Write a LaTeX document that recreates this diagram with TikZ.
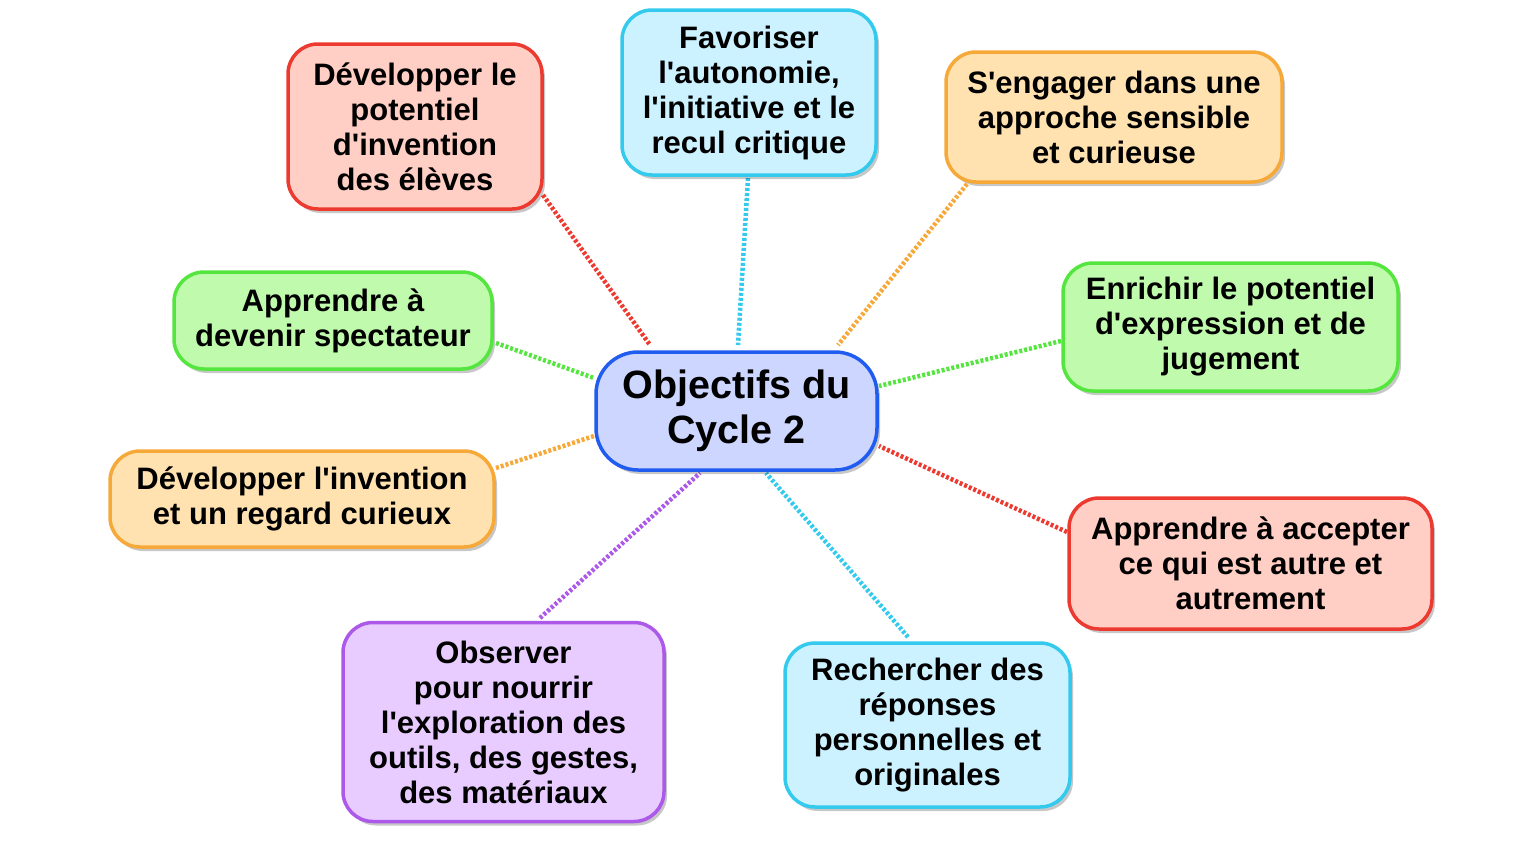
\documentclass[tikz,border=0pt]{standalone}
\usepackage{fontspec}
\setmainfont{Liberation Sans}[Ligatures=TeXOff]
\usetikzlibrary{shadows}
\pgfdeclarelayer{background}
\pgfsetlayers{background,main}
\definecolor{redB}{RGB}{236,58,48}
\definecolor{redF}{RGB}{255,206,196}
\definecolor{cyanB}{RGB}{52,202,238}
\definecolor{cyanF}{RGB}{204,242,255}
\definecolor{oraB}{RGB}{246,168,56}
\definecolor{oraF}{RGB}{255,226,176}
\definecolor{grnB}{RGB}{84,230,62}
\definecolor{grnF}{RGB}{192,250,172}
\definecolor{bluB}{RGB}{32,92,240}
\definecolor{bluF}{RGB}{204,214,255}
\definecolor{purB}{RGB}{172,88,232}
\definecolor{purF}{RGB}{232,204,255}
\tikzset{
  box/.style={draw=#1B, fill=#1F, line width=3.5pt, rounded corners=30pt,
    align=center, inner sep=0pt, font=\bfseries\fontsize{31}{35}\selectfont,
    drop shadow={shadow xshift=3pt, shadow yshift=-4pt, opacity=0.22, fill=black}},
  link/.style={draw=#1B, line width=4.5pt, dash pattern=on 3pt off 2pt}
}
\begin{document}
\begin{tikzpicture}[x=1pt,y=-1pt]
\useasboundingbox (0,0) rectangle (1530,846);
\node[box=red, minimum width=254pt, minimum height=165pt] (r1) at (415,126.5) {Développer le\\potentiel\\d'invention\\des élèves};
\node[box=cyan, minimum width=254pt, minimum height=165pt] (c1) at (749,92.5) {Favoriser\\l'autonomie,\\l'initiative et le\\recul critique};
\node[box=ora, minimum width=336pt, minimum height=130pt] (o1) at (1114,117) {S'engager dans une\\approche sensible\\et curieuse};
\node[box=grn, minimum width=318pt, minimum height=97pt] (g1) at (333,320.5) {Apprendre à\\devenir spectateur};
\node[box=grn, minimum width=335pt, minimum height=128pt] (g2) at (1230.5,327) {Enrichir le potentiel\\d'expression et de\\jugement};
\node[box=blu, minimum width=281pt, minimum height=118pt, rounded corners=42pt,
  font=\bfseries\fontsize{39.5}{45}\selectfont] (c) at (736.5,411) {Objectifs du\\Cycle 2};
\node[box=ora, minimum width=384pt, minimum height=96pt] (o2) at (302,499) {Développer l'invention\\et un regard curieux};
\node[box=red, minimum width=363pt, minimum height=131pt] (r2) at (1250.5,563.5) {Apprendre à accepter\\ce qui est autre et\\autrement};
\node[box=pur, minimum width=321pt, minimum height=199pt] (p1) at (503.5,722) {Observer\\pour nourrir\\l'exploration des\\outils, des gestes,\\des matériaux};
\node[box=cyan, minimum width=285pt, minimum height=164pt] (c2) at (927.5,725) {Rechercher des\\réponses\\personnelles et\\originales};
\begin{pgfonlayer}{background}
\draw[link=red]  ([shift={(128,68.5)}]r1.center) -- ([shift={(-86.5,-66)}]c.center);
\draw[link=cyan] ([shift={(-1,85.5)}]c1.center) -- ([shift={(1.5,-66)}]c.center);
\draw[link=ora]  ([shift={(-147,67)}]o1.center) -- ([shift={(101.5,-66)}]c.center);
\draw[link=grn]  ([shift={(163,22.5)}]g1.center) -- ([shift={(-142.5,-33)}]c.center);
\draw[link=grn]  ([shift={(-169.5,14)}]g2.center) -- ([shift={(142.5,-25)}]c.center);
\draw[link=ora]  ([shift={(194,-31)}]o2.center) -- ([shift={(-142.5,25)}]c.center);
\draw[link=red]  ([shift={(-183.5,-31.5)}]r2.center) -- ([shift={(142.5,35)}]c.center);
\draw[link=pur]  ([shift={(36.5,-104)}]p1.center) -- ([shift={(-36.5,62)}]c.center);
\draw[link=cyan] ([shift={(-19.5,-88)}]c2.center) -- ([shift={(29.5,62)}]c.center);
\end{pgfonlayer}
\end{tikzpicture}
\end{document}
